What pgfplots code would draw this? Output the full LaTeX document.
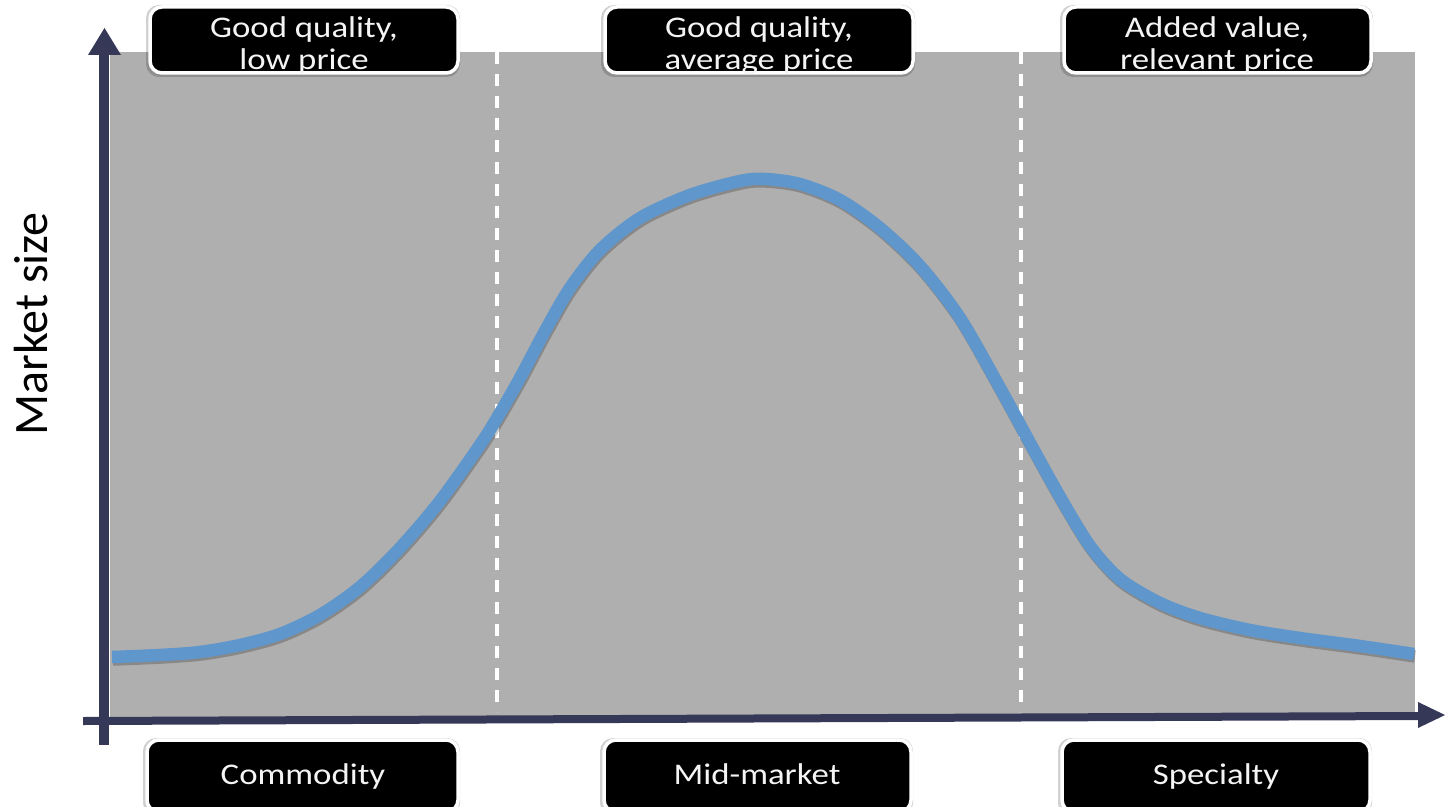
\documentclass[border=0pt]{standalone}
\usepackage{pgfplots}
\pgfplotsset{compat=1.18}
\usepackage{fontspec}
\setmainfont{Carlito}
\usepackage{graphicx}

\definecolor{panel}{HTML}{AFAFAF}
\definecolor{curveblue}{HTML}{5F96CB}
\definecolor{axisline}{HTML}{363857}
\definecolor{labeltext}{HTML}{F4F4F4}

\newcommand\boxfont{\fontsize{30bp}{34bp}\selectfont}
\newcommand\wide[1]{\scalebox{1.16}[1]{#1}}

% label box: shadow corners (4 numbers), then box corners (4 numbers)
\newcommand\labelbox[8]{%
  \fill[black, opacity=0.18, rounded corners=13bp]
    (axis cs:#1,#3) rectangle (axis cs:#2,#4);
  \draw[white, line width=3.5bp, fill=black, rounded corners=12bp]
    (axis cs:#5,#7) rectangle (axis cs:#6,#8);
}

% market-size curve over the price range
\pgfplotstableread{
x     y
112   149
160   151
200   154
240   161
280   172
320   191
360   219
400   258
440   305
480   361
497   388
520   428
545   475
570   518
600   556
640   588
690   611
740   625
765   627
800   622
840   606
880   578
920   540
960   488
1000  418
1030  363
1060  309
1090  260
1120  227
1160  203
1200  188
1250  176
1300  168
1360  160
1414  152
}\marketcurve

\begin{document}
\begin{tikzpicture}
\begin{axis}[
  width=1445bp, height=806bp, scale only axis,
  xmin=0, xmax=1445, ymin=0, ymax=806,
  hide axis, clip=false,
]
% panel
\fill[panel] (axis cs:110,89) rectangle (axis cs:1415,754);
% segment separators
\draw[white, line width=4bp, dash pattern=on 12bp off 10bp]
  (axis cs:497,754) -- (axis cs:497,94);
\draw[white, line width=4bp, dash pattern=on 12bp off 10bp]
  (axis cs:1021,754) -- (axis cs:1021,94);

% curve with a soft shadow
\addplot[smooth, no markers, line width=12.5bp, black, opacity=0.22,
  xshift=1bp, yshift=-2.5bp] table[x=x, y=y] {\marketcurve};
\addplot[smooth, no markers, line width=12.5bp, curveblue]
  table[x=x, y=y] {\marketcurve};

% axes with arrow heads
\fill[axisline] (axis cs:99,61) rectangle (axis cs:109,752);
\fill[axisline] (axis cs:88,751) -- (axis cs:104.5,778) -- (axis cs:121,751) -- cycle;
\fill[axisline] (axis cs:83,81) -- (axis cs:1420,86) -- (axis cs:1420,94)
  -- (axis cs:83,89) -- cycle;
\fill[axisline] (axis cs:1418,104) -- (axis cs:1445,91) -- (axis cs:1418,78) -- cycle;

% label boxes
\labelbox{146}{460}{729}{801}{150}{458}{733}{799}
\labelbox{601}{915}{729}{801}{605}{913}{733}{799}
\labelbox{1060}{1373}{729}{801}{1064}{1371}{733}{799}
\labelbox{143}{460}{-10}{68}{147}{458}{-6}{66}
\labelbox{600}{913}{-10}{68}{604}{911}{-6}{66}
\labelbox{1058}{1372}{-10}{68}{1062}{1370}{-6}{66}

% top labels
\node[anchor=base, text=labeltext, font=\boxfont, inner sep=0pt] at (axis cs:304,768) {\wide{Good quality,}};
\node[anchor=base, text=labeltext, font=\boxfont, inner sep=0pt] at (axis cs:304,736) {\wide{low price}};
\node[anchor=base, text=labeltext, font=\boxfont, inner sep=0pt] at (axis cs:759,768) {\wide{Good quality,}};
\node[anchor=base, text=labeltext, font=\boxfont, inner sep=0pt] at (axis cs:759,736) {\wide{average price}};
\node[anchor=base, text=labeltext, font=\boxfont, inner sep=0pt] at (axis cs:1217,768) {\wide{Added value,}};
\node[anchor=base, text=labeltext, font=\boxfont, inner sep=0pt] at (axis cs:1217,736) {\wide{relevant price}};

% bottom labels
\node[anchor=base, text=labeltext, font=\boxfont, inner sep=0pt] at (axis cs:303,22) {\wide{Commodity}};
\node[anchor=base, text=labeltext, font=\boxfont, inner sep=0pt] at (axis cs:757,22) {\wide{Mid-market}};
\node[anchor=base, text=labeltext, font=\boxfont, inner sep=0pt] at (axis cs:1216,22) {\wide{Specialty}};

% y-axis title
\node[anchor=base, rotate=90, font=\fontsize{48bp}{56bp}\selectfont, inner sep=0pt]
  at (axis cs:47,482) {Market size};
\end{axis}
\pgfresetboundingbox
\useasboundingbox (current axis.south west) rectangle (current axis.north east);
\end{tikzpicture}
\end{document}
